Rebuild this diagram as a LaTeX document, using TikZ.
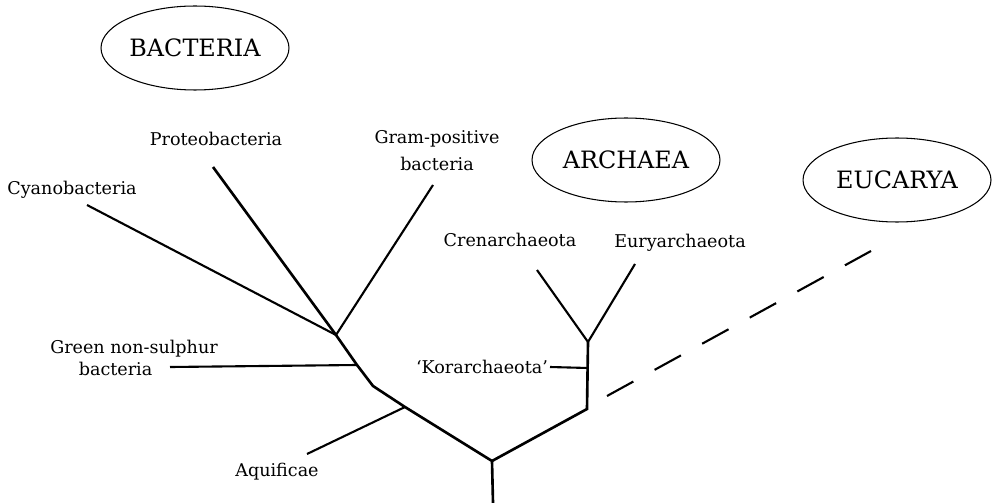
\documentclass[tikz,border=0pt]{standalone}
\usepackage{fontspec}
\setmainfont{DejaVu Serif}
\usetikzlibrary{shapes.geometric}

\begin{document}
\begin{tikzpicture}[x=0.02cm, y=-0.02cm,
  font=\fontsize{10}{12}\selectfont,
  kingdom/.style={draw, ellipse, line width=0.6pt, minimum width=3.76cm, minimum height=1.68cm, inner sep=0pt, font=\fontsize{13.6}{16}\selectfont},
  lbl/.style={inner sep=1pt, align=center},
  branch/.style={line width=1.2pt},
  trunk/.style={line width=1.5pt, line join=miter}]
\useasboundingbox (0,0) rectangle (993,503);
% domains
\node[kingdom] (bact) at (195,48) {BACTERIA};
\node[kingdom] (arch) at (626,160) {ARCHAEA};
\node[kingdom] (euk) at (897,180) {EUCARYA};
% labels
\node[lbl] (cyano) at (72,190) {Cyanobacteria};
\node[lbl] (proteo) at (216,139) {Proteobacteria};
\node[lbl, font=\fontsize{10}{15.4}\selectfont] (gram) at (437,151) {Gram-positive\\bacteria};
\node[lbl, font=\fontsize{10}{12.5}\selectfont] (green) at (134,358) {Green non-sulphur\\bacteria\hspace*{21pt}};
\node[lbl] (aquif) at (277,472) {Aquificae};
\node[lbl] (cren) at (510,240) {Crenarchaeota};
\node[lbl] (eury) at (680,243) {Euryarchaeota};
\node[lbl, anchor=east] (kor) at (550,367) {`Korarchaeota'};
% branch points
\coordinate (root) at (493,503);
\coordinate (rj) at (492,461);
\coordinate (aqj) at (405,407);
\coordinate (bend) at (373,386);
\coordinate (gnj) at (357,365);
\coordinate (bj) at (336,335);
\coordinate (ab) at (587,409);
\coordinate (kj) at (588,368);
\coordinate (aj) at (588,342);
% leaf ends
\coordinate (cyEnd) at (87,205);
\coordinate (prEnd) at (213,167);
\coordinate (gpEnd) at (433,185);
\coordinate (gnEnd) at (170,367);
\coordinate (aqEnd) at (307,454);
\coordinate (crEnd) at (537,270);
\coordinate (euEnd) at (635,264);
\coordinate (dashStart) at (607,396);
\coordinate (dashEnd) at (871,251);
% tree
\draw[trunk] (root) -- (rj) -- (aqj) -- (bend) -- (gnj) -- (bj) -- (prEnd);
\draw[trunk] (rj) -- (ab) -- (aj);
\draw[branch] (bj) -- (cyEnd);
\draw[branch] (bj) -- (gpEnd);
\draw[branch] (gnj) -- (gnEnd);
\draw[branch] (aqj) -- (aqEnd);
\draw[branch] (aj) -- (crEnd);
\draw[branch] (aj) -- (euEnd);
\draw[branch] (kj) -- (kor.east);
\draw[branch, dash pattern=on 17.1pt off 13.8pt] (dashStart) -- (dashEnd);
\end{tikzpicture}
\end{document}
